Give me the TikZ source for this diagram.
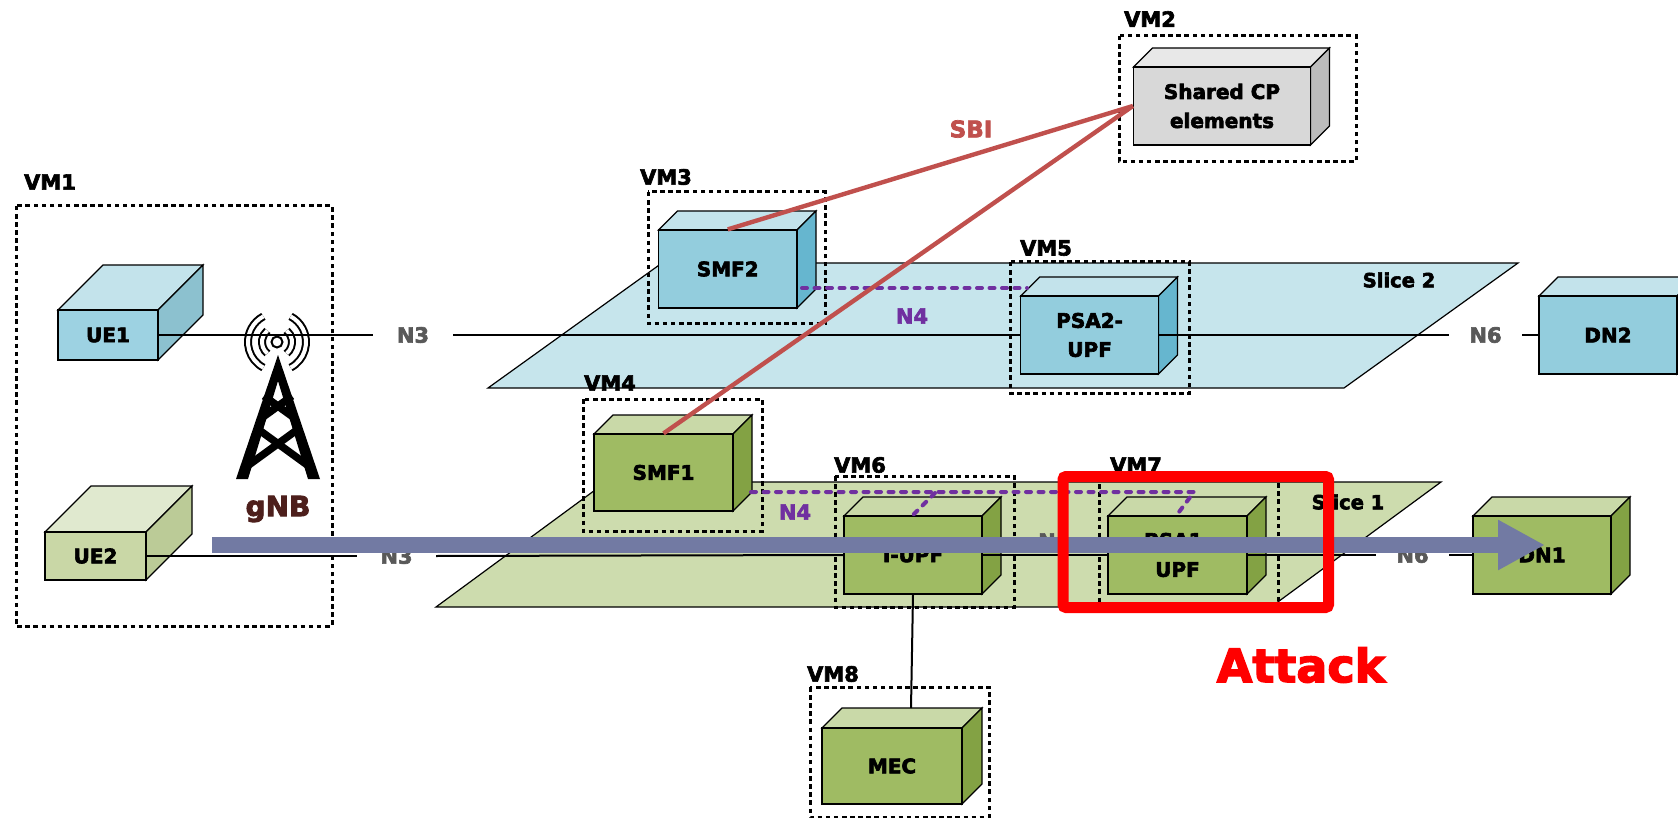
\documentclass[tikz,border=0pt]{standalone}
\usepackage{fontspec}
\setmainfont{DejaVu Sans}[BoldFont={DejaVu Sans Bold},BoldFeatures={FakeBold=3}]
\usetikzlibrary{arrows.meta}
\definecolor{bluefront}{HTML}{93CDDD}
\definecolor{bluetop}{HTML}{C3E3EB}
\definecolor{blueside}{HTML}{66B6CF}
\definecolor{uefront}{HTML}{9DD2E2}
\definecolor{ueside}{HTML}{8CC1CF}
\definecolor{greenfront}{HTML}{9FBB63}
\definecolor{greentop}{HTML}{C9D9A8}
\definecolor{greenside}{HTML}{83A244}
\definecolor{lightfront}{HTML}{C9D7A6}
\definecolor{lighttop}{HTML}{E0E9CF}
\definecolor{lightside}{HTML}{BBCB97}
\definecolor{greyfront}{HTML}{D8D8D8}
\definecolor{greytop}{HTML}{E8E8E8}
\definecolor{greyside}{HTML}{BCBCBC}
\definecolor{slicea}{HTML}{CDDCAE}
\definecolor{sliceb}{HTML}{C6E5EC}
\definecolor{ifgrey}{HTML}{595959}
\definecolor{sbicol}{HTML}{C0504D}
\definecolor{nfour}{HTML}{7030A0}
\definecolor{flow}{HTML}{727AA3}
\definecolor{gnbcol}{HTML}{4D1F1C}
\tikzset{
  edge/.style={draw=black,line width=1.2pt,line join=miter},
  face/.style={edge,inner sep=0pt,align=center,font=\fontsize{20}{29}\selectfont\bfseries},
  vmbox/.style={draw=black,line width=3pt,dash pattern=on 4.5pt off 3.6pt,fill=none},
  vmlabel/.style={inner sep=0pt,font=\fontsize{21}{25}\selectfont\bfseries},
  sl/.style={draw=black,line width=1.2pt},
  slabel/.style={inner sep=0pt,font=\fontsize{19.5}{24}\selectfont\bfseries},
  iface/.style={inner sep=0pt,text=ifgrey,font=\fontsize{21}{25}\selectfont\bfseries},
  link/.style={draw=black,line width=2pt},
  sbi/.style={draw=sbicol,line width=4.4pt},
  nflink/.style={draw=nfour,line width=4pt,line cap=round,dash pattern=on 5pt off 7.5pt},
  nflabel/.style={inner sep=0pt,text=nfour,font=\fontsize{21}{25}\selectfont\bfseries},
  tower/.style={draw=black,line width=7.5pt,line cap=butt},
  wave/.style={draw=black,line width=2pt,double=white,double distance=4pt}
}
% name, x1, y1, x2, y2, depth, front, top, side, text
\newcommand\cubebox[9]{%
  \draw[edge,fill=#7] (#2,#3) -- (#2+#6,#3-#6) -- (#4+#6,#3-#6) -- (#4,#3) -- cycle;
  \draw[edge,fill=#8] (#4,#3) -- (#4+#6,#3-#6) -- (#4+#6,#5-#6) -- (#4,#5) -- cycle;
  \cubefront{#1}{#2}{#3}{#4}{#5}{#9}%
}
\newcommand\cubefront[6]{%
  \pgfmathsetmacro\cw{#4-#2}\pgfmathsetmacro\ch{#5-#3}%
  \node[face,fill=\cubefill,minimum width=\cw pt,minimum height=\ch pt] (#1) at ({(#2+#4)/2},{(#3+#5)/2}) {#6};
}
\newcommand\cubefill{white}
\newcommand\cube[9]{\renewcommand\cubefill{#9}\cubebox{#1}{#2}{#3}{#4}{#5}{#6}{#7}{#8}}
\begin{document}
\begin{tikzpicture}[x=1pt,y=-1pt]
\useasboundingbox (0,0) rectangle (1678,818);
\clip (0,0) rectangle (1678,818);
% slices
\draw[sl,fill=sliceb] (488,388) -- (662,263) -- (1518,263) -- (1344,388) -- cycle;
\draw[sl,fill=slicea] (436,607) -- (606,482) -- (1441,482) -- (1271,607) -- cycle;
\node[slabel] (sliceTwo) at (1399,280) {Slice 2};
\node[slabel] (sliceOne) at (1348,502) {Slice 1};
% gNB tower
\fill[black] (278,355) -- (236,479) -- (248,479) -- (278,381) -- (308,479) -- (320,479) -- cycle;
\draw[tower] (246,467) -- (301,427);
\draw[tower] (310,467) -- (255,427);
\draw[tower] (263,417) -- (292,396);
\draw[tower] (293,417) -- (264,396);
\draw[line width=2pt] (277,342) circle (5.5);
\draw[wave] (277,342) ++(130:15) arc (130:230:15);
\draw[wave] (277,342) ++(50:15) arc (50:-50:15);
\draw[wave] (277,342) ++(118:29) arc (118:242:29);
\draw[wave] (277,342) ++(62:29) arc (62:-62:29);
\node[inner sep=0pt,text=gnbcol,font=\fontsize{28}{32}\selectfont\bfseries] (gnb) at (278,509) {gNB};
% cubes
\cube{ueone}{58}{310}{158}{360}{45}{bluetop}{ueside}{uefront}{UE1}
\cube{uetwo}{45}{532}{146}{580}{46}{lighttop}{lightside}{lightfront}{UE2}
\cube{shared}{1133.5}{67}{1310.5}{145}{19}{greytop}{greyside}{greyfront}{Shared CP\\elements}
\cube{smftwo}{658.5}{230}{797}{308}{19}{bluetop}{blueside}{bluefront}{SMF2}
\cube{psatwo}{1020.7}{296}{1158.5}{374}{19}{bluetop}{blueside}{bluefront}{PSA2-\\UPF}
\cube{dntwo}{1539}{296}{1677}{374}{19}{bluetop}{blueside}{bluefront}{DN2}
\cube{smfone}{594}{434}{733}{511}{19}{greentop}{greenside}{greenfront}{SMF1}
\cube{tupf}{844}{516}{982}{594}{19}{greentop}{greenside}{greenfront}{I-UPF}
\cube{psaone}{1108}{516}{1247}{594}{19}{greentop}{greenside}{greenfront}{PSA1-\\UPF}
\cube{dnone}{1473}{516}{1611}{594}{19}{greentop}{greenside}{greenfront}{DN1}
\cube{mec}{822}{728}{962}{804}{20}{greentop}{greenside}{greenfront}{MEC}
% interface labels (their width is the gap in the line)
\node[iface,minimum width=80pt] (nthreeu) at (413,335) {N3};
\node[iface,minimum width=79pt] (nthreel) at (396.5,556) {N3};
\node[iface,minimum width=73pt] (nsixu) at (1485.5,335) {N6};
\node[iface,minimum width=73pt] (nsixl) at (1412.5,555) {N6};
\node[iface] (nnine) at (1047,541) {N};
% black links
\draw[link] (ueone.east) -- (nthreeu.west);
\draw[link] (nthreeu.east) -- (psatwo.west);
\draw[link] (psatwo.east) -- (nsixu.west);
\draw[link] (nsixu.east) -- (dntwo.west);
\draw[link] (uetwo.east) -- (nthreel.west);
\draw[link] (nthreel.east) -- (tupf.west);
\draw[link] (tupf.east) -- (psaone.west);
\draw[link] (psaone.east) -- (nsixl.west);
\draw[link] (nsixl.east) -- (dnone.west);
\coordinate (mectop) at (911,708);
\draw[link] (tupf.south) -- (mectop);
% VM boxes
\draw[vmbox] (16,206) rectangle (332,626);
\draw[vmbox] (1119,36) rectangle (1356,162);
\draw[vmbox] (648,192) rectangle (825,323);
\draw[vmbox] (583,399) rectangle (762,531);
\draw[vmbox] (1010.5,262) rectangle (1189.6,393);
\draw[vmbox] (835,476) rectangle (1014,607);
\draw[vmbox] (1099,476) rectangle (1278,607);
\draw[vmbox] (810,687) rectangle (989,817);
\node[vmlabel] (vmone) at (50,182) {VM1};
\node[vmlabel] (vmtwo) at (1150,19) {VM2};
\node[vmlabel] (vmthree) at (666,177) {VM3};
\node[vmlabel] (vmfour) at (610,383) {VM4};
\node[vmlabel] (vmfive) at (1046,248) {VM5};
\node[vmlabel] (vmsix) at (860,465) {VM6};
\node[vmlabel] (vmseven) at (1136,465) {VM7};
\node[vmlabel] (vmeight) at (833,674) {VM8};
% N4
\coordinate (nfua) at (802,288);
\coordinate (nfub) at (1027,288);
\draw[nflink] (nfua) -- (nfub);
\node[nflabel] (nfu) at (912,316) {N4};
\coordinate (nfla) at (751,492);
\coordinate (nflb) at (1194,492);
\coordinate (nflc) at (1176,516);
\coordinate (nfld) at (935,493);
\coordinate (nfle) at (912,516);
\draw[nflink] (nfla) -- (nflb) -- (nflc);
\draw[nflink] (nfld) -- (nfle);
\node[nflabel] (nfl) at (795,512) {N4};
% SBI
\draw[sbi] (smftwo.north) -- (shared.west);
\draw[sbi] (smfone.north) -- (shared.west);
\node[inner sep=0pt,text=sbicol,font=\fontsize{23}{27}\selectfont\bfseries] (sbilabel) at (971,129) {SBI};
% attack flow
\coordinate (flowa) at (212,545);
\coordinate (flowb) at (1545,545);
\draw[draw=flow,line width=16pt,-{Triangle[length=47pt,width=47pt,fill=flow]}] (flowa) -- (flowb);
\draw[draw=red,line width=11pt,rounded corners=3pt] (1063,476.5) rectangle (1328.5,607.5);
\node[inner sep=0pt,text=red,font=\fontsize{46}{50}\selectfont\bfseries] (attack) at (1301,665) {Attack};
\end{tikzpicture}
\end{document}
